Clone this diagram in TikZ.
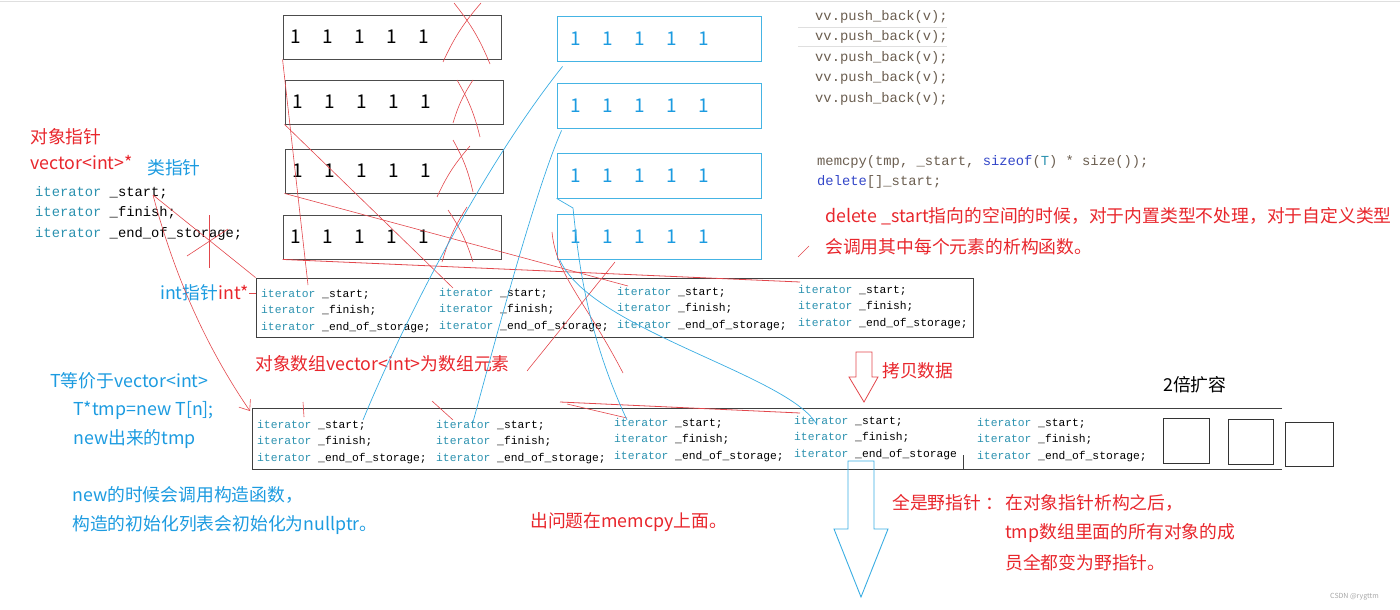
\documentclass[tikz,border=0pt]{standalone}
\usepackage{fontspec}
\setmainfont{Noto Sans CJK SC}
\setmonofont{Liberation Mono}
\usepackage{xcolor}
\usetikzlibrary{positioning, arrows.meta}

\definecolor{hongse}{HTML}{E8262C}
\definecolor{lanse}{HTML}{1C9BE0}
\definecolor{kuanglan}{HTML}{45B4E4}
\definecolor{xianlan}{HTML}{3AADE2}
\definecolor{xianhong}{HTML}{E2474C}
\definecolor{leixing}{HTML}{2B91AF}
\definecolor{hanshu}{HTML}{6B5E50}
\definecolor{guanjian}{HTML}{3346C8}

\newcommand{\itr}[1]{{\color{leixing}iterator} #1}
\newcommand{\ones}{1\hspace{21.5pt}1\hspace{21.5pt}1\hspace{21.5pt}1\hspace{21.5pt}1}
\newcommand{\sanhang}{\itr{\_start;}\\\itr{\_finish;}\\\itr{\_end\_of\_storage;}}

\begin{document}
\begin{tikzpicture}[x=1pt, y=-1pt,
    heibox/.style = {draw=black!70, line width=0.9pt, minimum height=44pt, text width=204pt, inner xsep=7pt, inner ysep=0pt, align=left, font=\fontsize{19}{19}\selectfont},
    lanbox/.style = {draw=kuanglan, line width=0.8pt, text=lanse, minimum height=45pt, text width=178pt, inner xsep=13pt, inner ysep=0pt, align=left, font=\fontsize{19}{19}\selectfont},
    fang/.style = {draw=black!80, line width=0.8pt, inner sep=0pt},
    hong/.style = {text=hongse, font=\fontsize{17.8}{20}\selectfont, inner sep=0pt, anchor=west},
    lan/.style = {text=lanse, font=\fontsize{17.8}{20}\selectfont, inner sep=0pt, anchor=west},
    daima/.style = {font=\ttfamily\fontsize{11.3}{16.5}\selectfont, align=left, inner sep=0pt, anchor=west},
    daimada/.style = {font=\ttfamily\fontsize{13.8}{20.5}\selectfont, align=left, inner sep=0pt, anchor=west},
    hongxian/.style = {draw=xianhong, line width=0.6pt},
    lanxian/.style = {draw=xianlan, line width=0.7pt}]
    \useasboundingbox (0,0) rectangle (1400,610);
    \draw[gray!25, line width=1pt] (0,1.5) -- (1400,1.5);

    % 原来的空间与新空间
    \node[heibox] (b1) at (392,37) {\ones};
    \node[heibox] (b2) at (394,102) {\ones};
    \node[heibox] (b3) at (394,171) {\ones};
    \node[heibox] (b4) at (392,237) {\ones};
    \node[lanbox] (bb1) at (659,38.5) {\ones};
    \node[lanbox] (bb2) at (659,105.5) {\ones};
    \node[lanbox] (bb3) at (659,175.5) {\ones};
    \node[lanbox] (bb4) at (659,236.5) {\ones};

    % 被释放的空间
    \draw[hongxian] (443,62) to[bend left=8] (481,3);
    \draw[hongxian] (454,3) to[bend left=8] (490,64);
    \draw[hongxian] (453,123) to[bend left=8] (473,80);
    \draw[hongxian] (457,80) to[bend left=8] (480,137);
    \draw[hongxian] (437,197) to[bend left=8] (470,146);
    \draw[hongxian] (453,140) to[bend left=8] (473,192);
    \draw[hongxian] (442,262) to[bend left=8] (467,207);
    \draw[hongxian] (448,210) to[bend left=8] (473,262);

    % 代码
    \node[daimada, text=hanshu] (push) at (815,57.5) {vv.push\_back(v);\\vv.push\_back(v);\\vv.push\_back(v);\\vv.push\_back(v);\\vv.push\_back(v);};
    \draw[gray!25, line width=1pt] (798,28) -- (947,28);
    \draw[gray!25, line width=1pt] (798,47) -- (947,47);
    \node[daimada, text=hanshu] (memcpy) at (817,172) {memcpy(tmp, \_start, {\color{guanjian}sizeof}({\color{leixing}T}) * size());\\{\color{guanjian}delete}[]\_start;};
    \node[hong] (shanchu1) at (825,216) {delete \_start指向的空间的时候，对于内置类型不处理，对于自定义类型};
    \node[hong] (shanchu2) at (825,247) {会调用其中每个元素的析构函数。};
    \draw[hongxian] (798,257) -- (809,246);

    % 左边的对象指针
    \node[hong] (duixiang) at (30,137) {对象指针};
    \node[hong] (vecptr) at (30,163) {vector<int>*};
    \node[lan] (leizhi) at (147,168) {类指针};
    \node[daimada] (zuodaima) at (35,213) {\sanhang};
    \node[anchor=west, inner sep=0pt, font=\fontsize{17.8}{20}\selectfont] (intzhi) at (160,293) {{\color{lanse}int指针}{\color{hongse}int*}};

    % 对象数组
    \node[minimum width=717pt, minimum height=59pt, draw=black!75, line width=0.8pt] (a1) at (614.5,307.5) {};
    \node[daima] (a1c1) at (261,311) {\sanhang};
    \node[daima] (a1c2) at (439,310) {\sanhang};
    \node[daima] (a1c3) at (617,309) {\sanhang};
    \node[daima] (a1c4) at (798,307) {\sanhang};
    \node[hong] (yuansu) at (255,364) {对象数组vector<int>为数组元素};

    % 拷贝数据
    \draw[hongxian, line width=0.8pt] (856,352) -- (872,352) -- (872,377) -- (878,377) -- (864,402) -- (849,377) -- (856,377) -- cycle;
    \node[hong] (kaobei) at (882,371) {拷贝数据};
    \node[anchor=west, inner sep=0pt, font=\fontsize{17.8}{20}\selectfont] (kuorong) at (1163,385) {2倍扩容};

    % tmp 数组
    \node[minimum width=1029pt, minimum height=60pt, inner sep=0pt] (a2) at (767.5,439) {};
    \draw[black!75, line width=0.8pt] (a2.north east) -- (a2.north west) -- (a2.south west) -- (a2.south east);
    \draw[black!75, line width=0.8pt] (963,455) -- (963,469);
    \node[daima] (a2c1) at (257,442) {\sanhang};
    \node[daima] (a2c2) at (436,442) {\sanhang};
    \node[daima] (a2c3) at (614,440) {\sanhang};
    \node[daima] (a2c4) at (794,438) {\itr{\_start;}\\\itr{\_finish;}\\\itr{\_end\_of\_storage}};
    \node[daima] (a2c5) at (977,440) {\sanhang};
    \node[fang, minimum width=46pt, minimum height=45pt] (sq1) at (1186,440.5) {};
    \node[fang, minimum width=45pt, minimum height=45pt] (sq2) at (1250.5,441.5) {};
    \node[fang, minimum width=48pt, minimum height=44pt] (sq3) at (1309,444) {};

    % 左下说明
    \node[lan] (tdeng) at (50,381) {T等价于vector<int>};
    \node[lan] (tnew) at (73,410) {T*tmp=new T[n];};
    \node[lan] (newtmp) at (73,439) {new出来的tmp};
    \node[lan] (gouzao1) at (72,495) {new的时候会调用构造函数，};
    \node[lan] (gouzao2) at (72,525) {构造的初始化列表会初始化为nullptr。};
    \node[hong] (wenti) at (530,522) {出问题在memcpy上面。};

    % 野指针
    \draw[lanxian, line width=0.9pt] (848,461) -- (874,461) -- (874,529) -- (888,529) -- (861,597) -- (834,529) -- (848,529) -- cycle;
    \node[hong] (yezhi1) at (892,503) {全是野指针 ：};
    \node[hong] (yezhi2) at (1005,503) {在对象指针析构之后，};
    \node[hong] (yezhi3) at (1005,533) {tmp数组里面的所有对象的成};
    \node[hong] (yezhi4) at (1005,563) {员全都变为野指针。};
    \node[anchor=west, inner sep=0pt, text=gray!70, font=\fontsize{7}{8}\selectfont] (shuiyin) at (1330,597) {CSDN @rygttm};

    % 坐标定义
    \coordinate (p1) at (308,285);
    \coordinate (p2) at (453,288);
    \coordinate (p3) at (628,286);
    \coordinate (p4) at (800,282);
    \coordinate (q1) at (552,232);
    \coordinate (q2) at (623,373);
    \coordinate (r1) at (527,371);
    \coordinate (r2) at (615,262);
    \coordinate (ls) at (153,195);
    \coordinate (jt) at (250,411);
    \coordinate (t1) at (363,420);
    \coordinate (t2) at (473,422);
    \coordinate (t3) at (627,420);
    \coordinate (t4) at (817,425);

    % 红色指向
    \draw[hongxian] (b1.south west) -- (p1);
    \draw[hongxian] (b2.south west) -- (p2);
    \draw[hongxian] (b3.south west) -- (p3);
    \draw[hongxian, line width=0.8pt] (b4.south west) -- (p4);
    \draw[hongxian] (q1) .. controls (556,275) and (585,300) .. (q2);
    \draw[hongxian] (r1) -- (r2);
    \draw[hongxian] (ls) -- (a1.north west);
    \draw[hongxian, -{Straight Barb[length=9pt, width=14pt]}] (ls) .. controls (178,290) and (215,360) .. (jt);
    \draw[hongxian] (209,215) -- (209,268);
    \draw[hongxian] (187,256) -- (228,229);
    \draw[hongxian] (intzhi.east) -- (intzhi.east -| a1.west);
    \draw[hongxian] (303,402) -- (304,417);
    \draw[hongxian] (432,401) -- (453,420);
    \draw[hongxian, line width=0.8pt] (560,402) -- (800,413);
    \draw[hongxian] (567,404) -- (627,418);

    % 蓝色指向
    \draw[lanxian] ([xshift=6pt, yshift=-5pt]bb1.south west) .. controls (480,170) and (400,330) .. (t1);
    \draw[lanxian] ([xshift=5pt, yshift=-2pt]bb2.south west) .. controls (535,190) and (490,360) .. (t2);
    \draw[lanxian] (bb3.south west) -- (573,208) .. controls (578,255) and (585,330) .. (t3);
    \draw[lanxian] ([xshift=3pt]bb4.south west) .. controls (590,330) and (790,375) .. (t4);
\end{tikzpicture}
\end{document}
